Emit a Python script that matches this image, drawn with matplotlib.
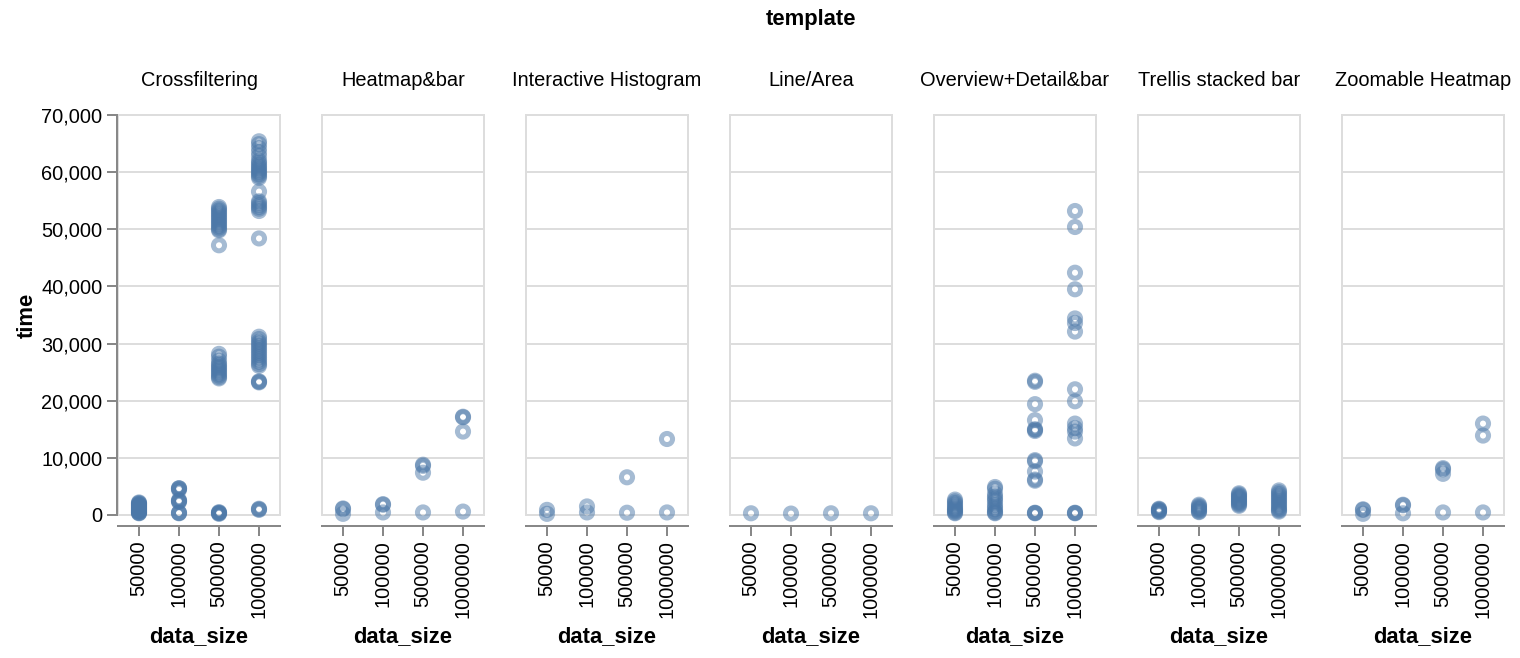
import matplotlib
matplotlib.use('Agg')
import matplotlib.pyplot as plt
from matplotlib.patches import Rectangle
from matplotlib.ticker import FuncFormatter

templates = ['Crossfiltering', 'Heatmap&bar', 'Interactive Histogram', 'Line/Area',
             'Overview+Detail&bar', 'Trellis stacked bar', 'Zoomable Heatmap']
data_sizes = ['50000', '100000', '500000', '1000000']

# time values per data size (50000, 100000, 500000, 1000000)
crossfiltering = [
    [300, 350, 400, 500, 600, 700, 800, 900, 1000, 1100, 1200, 1300, 1400, 1500,
     1600, 1700, 1800, 1900, 2000, 2100, 2200],
    [4700, 4650, 4600, 4400, 2600, 2500, 2400, 2300, 400, 300, 350],
    [53900, 53600, 53300, 53000, 52700, 52400, 52100, 51800, 51500, 51200, 50900,
     50600, 50300, 50000, 49800, 47200,
     28200, 27700, 27000, 26500, 26200, 25900, 25600, 25300, 25000, 24700, 24400,
     24100, 23900,
     200, 300, 400, 500, 350],
    [65400, 64900, 64200, 63500, 62800, 62000, 61700, 61300, 61000, 60700, 60400,
     60100, 59900, 59600, 59300, 59000, 56600, 54900, 54600, 54200, 53900, 53600,
     53200, 48400,
     31200, 30800, 30300, 30000, 29600, 29200, 28800, 28400, 28000, 27600, 27200,
     26800, 26400, 26100, 23400, 23300, 23200,
     900, 1000, 1100],
]
heatmap_bar = [
    [1150, 1050, 200],
    [1900, 1800, 450],
    [8800, 8600, 7400, 450],
    [17200, 17100, 14600, 600],
]
interactive_histogram = [
    [900, 200],
    [1500, 450],
    [6600, 400],
    [13300, 450],
]
line_area = [
    [300],
    [250],
    [300],
    [300],
]
overview_detail_bar = [
    [2700, 2400, 2100, 1800, 1500, 1200, 1000, 800, 600, 400, 300],
    [4900, 4600, 3700, 3200, 2800, 2400, 1800, 1400, 1000, 600, 400, 300],
    [23500, 23300, 19400, 16600, 15000, 14900, 14700, 9600, 9400, 7600, 6200, 6000,
     400, 350, 300],
    [53200, 50400, 42400, 39500, 34400, 33600, 32100, 22000, 19900, 16000, 15200,
     14600, 13400, 400, 350, 300],
]
trellis_stacked_bar = [
    [1100, 1000, 900, 800, 700, 600, 500],
    [1800, 1600, 1400, 1200, 1000, 800, 600, 500],
    [3800, 3600, 3400, 3200, 3000, 2800, 2600, 2400, 2200, 2000, 1800, 1600],
    [4300, 4000, 3700, 3400, 3100, 2800, 2500, 2200, 1900, 1600, 1300, 1000, 800, 600],
]
zoomable_heatmap = [
    [1000, 900, 200],
    [1800, 1700, 300],
    [8200, 8000, 7200, 450],
    [16000, 13900, 450],
]
panel_times = [crossfiltering, heatmap_bar, interactive_histogram, line_area,
               overview_detail_bar, trellis_stacked_bar, zoomable_heatmap]

plt.rcParams['font.family'] = ['Liberation Sans', 'DejaVu Sans']

W, H = 1520, 658
fig = plt.figure(figsize=(W / 100, H / 100), dpi=100)

axis_grey = '#888888'
grid_grey = '#dddddd'
blue = '#4c78a8'

for i, (name, times) in enumerate(zip(templates, panel_times)):
    left = 118 + 204 * i
    ax = fig.add_axes([left / W, 1 - 515 / H, 162 / W, 400 / H])

    for j, vals in enumerate(times):
        ax.scatter([j] * len(vals), vals, s=64, facecolors='none', edgecolors=blue,
                   linewidths=3.6, alpha=0.5, clip_on=False, zorder=3)

    ax.set_xlim(-0.525, 3.525)
    ax.set_ylim(0, 70000)
    ax.set_yticks(range(0, 70001, 10000))
    ax.yaxis.set_major_formatter(FuncFormatter(lambda v, p: '{:,.0f}'.format(v)))
    ax.yaxis.grid(True, color=grid_grey, lw=1.44)
    ax.set_axisbelow(True)

    # view border
    ax.add_patch(Rectangle((0, 0), 1, 1, transform=ax.transAxes, fill=False,
                           ec=grid_grey, lw=1.44, clip_on=False, zorder=1))

    ax.spines['top'].set_visible(False)
    ax.spines['right'].set_visible(False)
    ax.spines['bottom'].set_position(('outward', 8))
    ax.spines['bottom'].set_color(axis_grey)
    ax.spines['bottom'].set_linewidth(1.44)

    ax.set_xticks(range(len(data_sizes)))
    ax.set_xticklabels(data_sizes, rotation=90, fontsize=14.4)
    ax.tick_params(axis='x', length=7.2, width=1.44, color=axis_grey, pad=3)

    if i == 0:
        ax.spines['left'].set_position(('outward', 1))
        ax.spines['left'].set_color(axis_grey)
        ax.spines['left'].set_linewidth(1.44)
        ax.tick_params(axis='y', length=7.2, width=1.44, color=axis_grey, pad=3,
                       labelsize=14.4)
    else:
        ax.spines['left'].set_visible(False)
        ax.tick_params(axis='y', left=False, labelleft=False)

    cx = (left + 81) / W
    fig.text(cx, 1 - 81 / H, name, ha='center', va='center', fontsize=14.4)
    fig.text(cx, 1 - 637 / H, 'data_size', ha='center', va='center',
             fontsize=15.8, fontweight='bold')

fig.text(811 / W, 1 - 20 / H, 'template', ha='center', va='center',
         fontsize=15.8, fontweight='bold')
fig.text(27 / W, 1 - 315 / H, 'time', ha='center', va='center', rotation=90,
         fontsize=15.8, fontweight='bold')

fig.savefig('out.png', dpi=100)
